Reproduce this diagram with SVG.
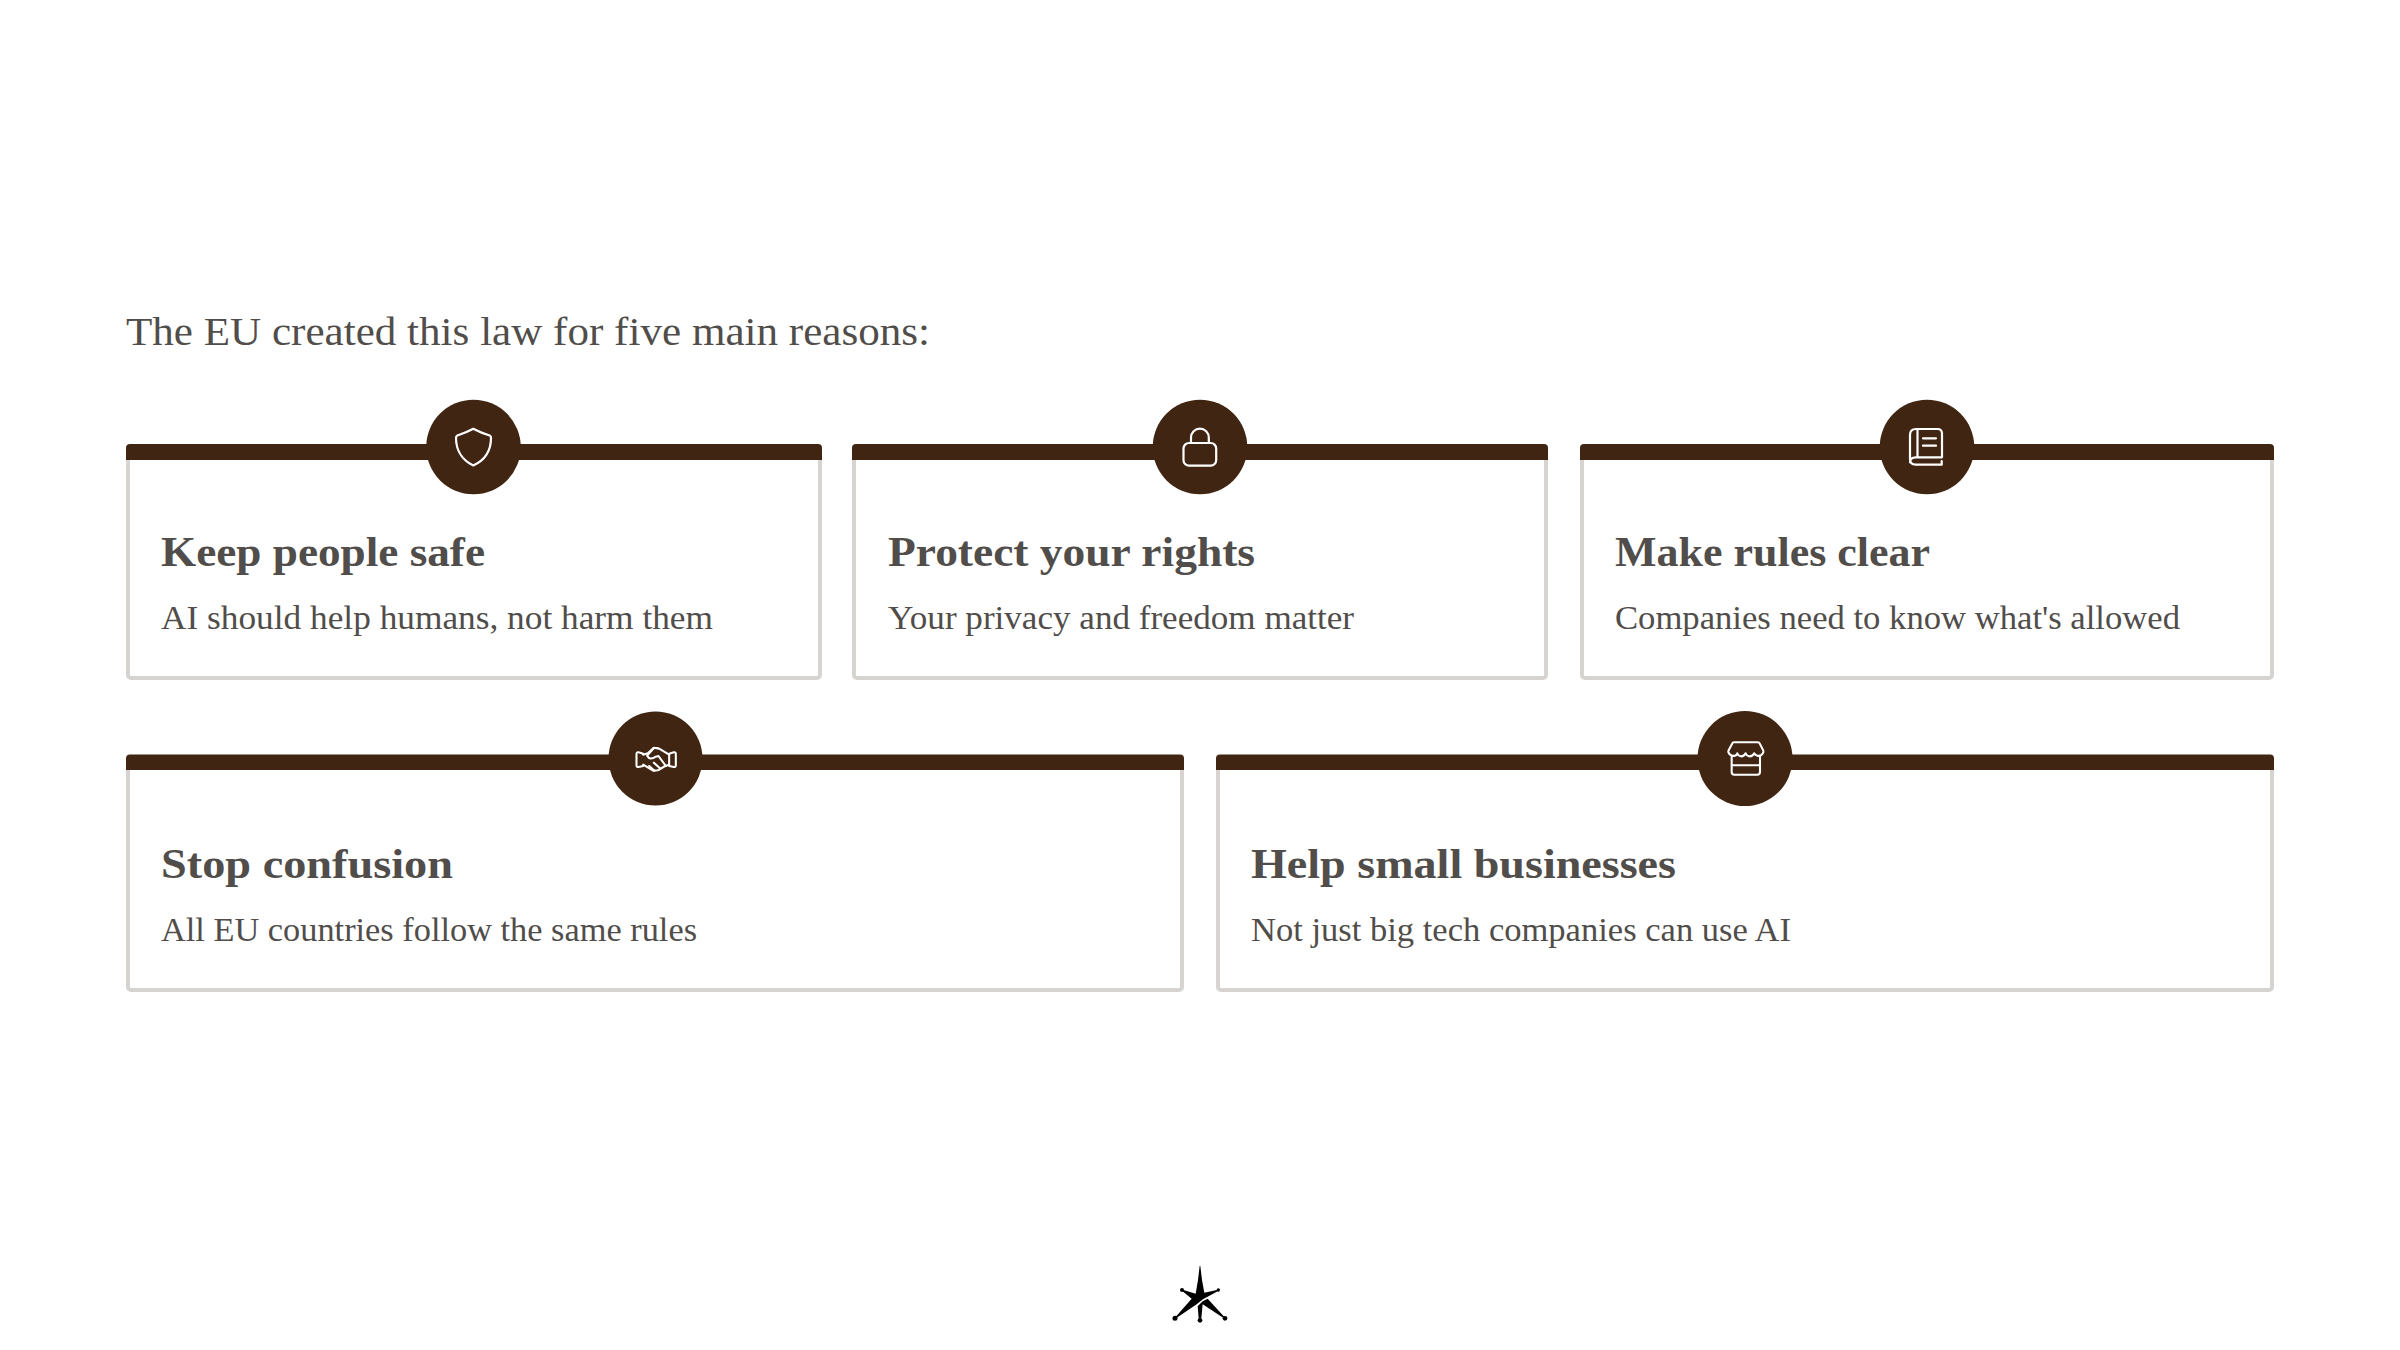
<svg xmlns="http://www.w3.org/2000/svg" width="2400" height="1350" viewBox="0 0 2400 1350">
<defs><style>
text{font-family:"Liberation Serif","Times New Roman",serif;fill:#504d4a}
.intro{font-size:41px}
.t{font-size:43px;font-weight:700}
.d{font-size:34px}
.box{fill:#fff;stroke:#d6d3d1;stroke-width:4}
.bar{fill:#402512}
.dot{fill:#402512}
.ic{fill:none;stroke:#fff;stroke-width:2.2;stroke-linejoin:round;stroke-linecap:round}
.ic6{fill:none;stroke:#fff;stroke-width:6.2;stroke-linejoin:round;stroke-linecap:round}
</style></defs>
<rect width="2400" height="1350" fill="#fff"/>
<text id="intro" class="intro" x="126" y="345" textLength="804" lengthAdjust="spacingAndGlyphs">The EU created this law for five main reasons:</text>

<g id="card-safe">
<rect class="box" x="128" y="450" width="692" height="228" rx="3"/>
<path class="bar" d="M126 460V448a4 4 0 0 1 4-4H818a4 4 0 0 1 4 4V460Z"/>
<circle class="dot" cx="473.500" cy="447" r="47.300"/>
<path class="ic" d="M473.300 428.800Q481 433 489 435.200Q491 435.800 491 438C491 452 483 461 473.300 465.500C464 461 456 452 456 438Q456 435.800 458 435.200Q465.500 433 473.300 428.800Z"/>
<text class="t" x="161" y="566" textLength="324" lengthAdjust="spacingAndGlyphs">Keep people safe</text>
<text class="d" x="161" y="628.500" textLength="552" lengthAdjust="spacingAndGlyphs">AI should help humans, not harm them</text>
</g>

<g id="card-rights">
<rect class="box" x="854" y="450" width="692" height="228" rx="3"/>
<path class="bar" d="M852 460V448a4 4 0 0 1 4-4H1544a4 4 0 0 1 4 4V460Z"/>
<circle class="dot" cx="1200" cy="447" r="47.300"/>
<g class="ic"><rect x="1183.500" y="443" width="32.700" height="22.700" rx="5.500"/><path d="M1191 443V437.500a8.900 8.900 0 0 1 17.800 0V443"/></g>
<text class="t" x="888" y="566" textLength="367" lengthAdjust="spacingAndGlyphs">Protect your rights</text>
<text class="d" x="888" y="628.500" textLength="466" lengthAdjust="spacingAndGlyphs">Your privacy and freedom matter</text>
</g>

<g id="card-clear">
<rect class="box" x="1582" y="450" width="690" height="228" rx="3"/>
<path class="bar" d="M1580 460V448a4 4 0 0 1 4-4H2270a4 4 0 0 1 4 4V460Z"/>
<circle class="dot" cx="1927" cy="447" r="47.300"/>
<g class="ic"><path d="M1917.500 429V457.300M1942 457.300V433.500q0-4.500-4.500-4.500H1916q-6 0-6 6V459q0 5.700 5.700 5.700H1941.700V461M1942 457.300H1915.700q-5.700 0-5.700 5"/><path d="M1923 438.300H1936M1923 445.700H1936"/></g>
<text class="t" x="1615" y="566" textLength="315" lengthAdjust="spacingAndGlyphs">Make rules clear</text>
<text class="d" x="1615" y="628.500" textLength="565" lengthAdjust="spacingAndGlyphs">Companies need to know what's allowed</text>
</g>

<g id="card-confusion">
<rect class="box" x="128" y="761" width="1054" height="229" rx="3"/>
<path class="bar" d="M126 770V758.500a4 4 0 0 1 4-4H1180a4 4 0 0 1 4 4V770Z"/>
<circle class="dot" cx="655.500" cy="758.500" r="47"/>
<g transform="translate(600.500 708) scale(.3333)" class="ic6">
<path d="M128 137L114 133Q108 132 108 138V172Q108 178 114 177L128 174"/>
<path d="M206 137L220 133Q226 132 226 138V172Q226 178 220 177L206 174"/>
<path d="M128 140L142 136L160 119L176 122L206 140V170L194 174L172 187L158 188L128 170"/>
<path d="M172 120H160L140 143Q148 158 166 146L174 144L196 174M180 182L160 164M162 188L146 174"/>
</g>
<text class="t" x="161" y="878" textLength="292" lengthAdjust="spacingAndGlyphs">Stop confusion</text>
<text class="d" x="161" y="940.500" textLength="536" lengthAdjust="spacingAndGlyphs">All EU countries follow the same rules</text>
</g>

<g id="card-business">
<rect class="box" x="1218" y="761" width="1054" height="229" rx="3"/>
<path class="bar" d="M1216 770V758.500a4 4 0 0 1 4-4H2270a4 4 0 0 1 4 4V770Z"/>
<circle class="dot" cx="1745" cy="758.500" r="47.500"/>
<g transform="translate(1695 708) scale(.3333)" class="ic6">
<path d="M117 103H188Q193 103 195 108L205 128Q206 132 204 135Q198 146 187 143Q180 141 178 136Q173 146 162 145Q155 144 152 136Q147 146 137 145Q130 144 127 136Q123 146 112 143Q102 140 100 132Q100 129 101 127L111 108Q113 103 117 103Z"/>
<path d="M110 146V192Q110 200 118 200H187Q195 200 195 192V146M110 172H195"/>
</g>
<text class="t" x="1251" y="878" textLength="425" lengthAdjust="spacingAndGlyphs">Help small businesses</text>
<text class="d" x="1251" y="940.500" textLength="540" lengthAdjust="spacingAndGlyphs">Not just big tech companies can use AI</text>
</g>

<g id="logo" transform="translate(1160 1255) scale(.3333)" fill="#000">
<path d="M119 33H121L126 75L133 113L174 104L176 107L129 133L110 148L46 191L44 189L95 131L66 107L68 104L107 116L114 75Z"/>
<path d="M128 139L143 131L196 189L194 191L136 153L128 148L124 190H116L113 154Z"/>
<circle cx="66" cy="105" r="6"/><circle cx="175" cy="105" r="5"/><circle cx="45" cy="190" r="7.500"/><circle cx="195" cy="190" r="7"/><circle cx="120" cy="196" r="7"/>
</g>
</svg>
